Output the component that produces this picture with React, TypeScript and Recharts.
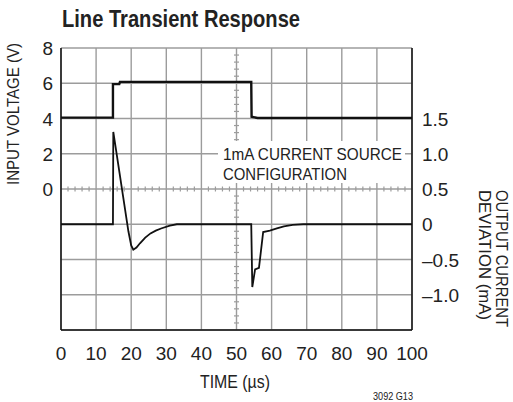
import React from 'react';
import { ComposedChart, Line, Scatter, XAxis, YAxis, CartesianGrid } from 'recharts';

const FONT = '"Liberation Sans Narrow", "Arial Narrow", "Liberation Sans", Arial, sans-serif';
const GRID = '#9c9c9c';
const INK = '#111';

// time axis (µs)
const X_TICKS = [0, 10, 20, 30, 40, 50, 60, 70, 80, 90, 100];
// left axis: input voltage (V) — negatives are grid only
const VOLT_TICKS = [-8, -6, -4, -2, 0, 2, 4, 6, 8];
// right axis: output current deviation (mA)
const CUR_TICKS = [-1, -0.5, 0, 0.5, 1, 1.5];
const CUR_TICK_LABELS = ['\u20131.0', '\u20130.5', '0', '0.5', '1.0', '1.5'];

// input voltage trace
const VOLT_T = [0, 14.8, 14.8, 16.6, 16.8, 54.2, 54.3, 56, 100];
const VOLT_V = [4.05, 4.05, 5.95, 5.95, 6.08, 6.08, 4.1, 4.03, 4.03];

// output current deviation trace
const CUR_T = [0, 14.8, 14.9, 19.2, 20.0, 20.6, 21.5, 22.5, 24, 25.5, 27, 28.5, 31, 33,
  54.2, 54.5, 55.3, 56.4, 57.6, 59.5, 61.5, 63.5, 66, 69, 100];
const CUR_I = [0, 0, 1.31, -0.1, -0.3, -0.36, -0.33, -0.27, -0.19, -0.13, -0.09, -0.06, -0.02, 0,
  0, -0.89, -0.64, -0.62, -0.11, -0.09, -0.06, -0.03, -0.01, 0, 0];

// graticule minor ticks on the centre lines
const MINOR_T = [2, 4, 6, 8, 12, 14, 16, 18, 22, 24, 26, 28, 32, 34, 36, 38, 42, 44, 46, 48,
  52, 54, 56, 58, 62, 64, 66, 68, 72, 74, 76, 78, 82, 84, 86, 88, 92, 94, 96, 98];
const MINOR_V = [-7.6, -7.2, -6.8, -6.4, -5.6, -5.2, -4.8, -4.4, -3.6, -3.2, -2.8, -2.4,
  -1.6, -1.2, -0.8, -0.4, 0.4, 0.8, 1.2, 1.6, 2.4, 2.8, 3.2, 3.6, 4.4, 4.8, 5.2, 5.6,
  6.4, 6.8, 7.2, 7.6];

const voltData = VOLT_T.map((t, k) => ({ t, v: VOLT_V[k] }));
const curData = CUR_T.map((t, k) => ({ t, i: CUR_I[k] }));
const minorH = MINOR_T.map(t => ({ t, v: 0 }));
const minorV = MINOR_V.map(v => ({ t: 50, v }));

const tickText = { fontFamily: FONT, fontSize: 19, fill: '#222' };

const VoltTick = ({ x, y, payload }: any) => (
  payload.value < 0 ? <g /> : (
    <text x={x - 8} y={y + 7} textAnchor="end" {...tickText}>{payload.value}</text>
  )
);

const CurTick = ({ x, y, payload }: any) => {
  const k = CUR_TICKS.indexOf(payload.value);
  return <text x={x + 10} y={y + 7} textAnchor="start" {...tickText}>{CUR_TICK_LABELS[k]}</text>;
};

const TimeTick = ({ x, y, payload }: any) => (
  <text x={x} y={y + 30} textAnchor="middle" {...tickText}>{payload.value}</text>
);

const HTick = (p: any) => <line x1={p.cx} x2={p.cx} y1={p.cy - 2.5} y2={p.cy + 2.5} stroke={GRID} strokeWidth={1.2} />;
const VTick = (p: any) => <line x1={p.cx - 2.5} x2={p.cx + 2.5} y1={p.cy} y2={p.cy} stroke={GRID} strokeWidth={1.2} />;

export default function App() {
  return (
    <div style={{ position: 'absolute', left: 0, top: 0, width: 513, height: 402, background: '#fff' }}>
      <ComposedChart width={513} height={402} margin={{ top: 48, right: 0, bottom: 0, left: 0 }}>
        <CartesianGrid yAxisId="v" stroke={GRID} strokeWidth={1.4} />
        <XAxis dataKey="t" type="number" domain={[0, 100]} ticks={X_TICKS} height={72}
          tickLine={false} tickSize={0} tickMargin={0} tick={<TimeTick />}
          axisLine={{ stroke: INK, strokeWidth: 1.5 }} />
        <XAxis xAxisId="top" orientation="top" type="number" domain={[0, 100]} height={0}
          tick={false} tickLine={false} axisLine={{ stroke: INK, strokeWidth: 1.5 }} />
        <YAxis yAxisId="v" dataKey="v" type="number" domain={[-8, 8]} ticks={VOLT_TICKS} width={61}
          tickLine={false} tickSize={0} tickMargin={0} tick={<VoltTick />}
          axisLine={{ stroke: INK, strokeWidth: 1.5 }} />
        <YAxis yAxisId="i" dataKey="i" orientation="right" type="number" domain={[-1.5, 2.5]} ticks={CUR_TICKS} width={101}
          tickLine={false} tickSize={0} tickMargin={0} tick={<CurTick />}
          axisLine={{ stroke: INK, strokeWidth: 1.5 }} />
        <Scatter yAxisId="v" data={minorH} dataKey="v" shape={HTick} isAnimationActive={false} />
        <Scatter yAxisId="v" data={minorV} dataKey="v" shape={VTick} isAnimationActive={false} />
        <Line yAxisId="v" data={voltData} dataKey="v" type="linear" stroke={INK} strokeWidth={2.4}
          dot={false} activeDot={false} isAnimationActive={false} />
        <Line yAxisId="i" data={curData} dataKey="i" type="linear" stroke={INK} strokeWidth={1.8}
          dot={false} activeDot={false} isAnimationActive={false} />
      </ComposedChart>
      <svg width={513} height={402} style={{ position: 'absolute', left: 0, top: 0, pointerEvents: 'none' }}>
        <text x={62} y={27} fontFamily={FONT} fontWeight="bold" fontSize={24} fill="#222"
          textLength={238} lengthAdjust="spacingAndGlyphs">Line Transient Response</text>
        <text transform="translate(19,114) rotate(-90)" textAnchor="middle" fontFamily={FONT} fontSize={16} fill="#222"
          textLength={142} lengthAdjust="spacingAndGlyphs">INPUT VOLTAGE (V)</text>
        <text transform="translate(496,190) rotate(90)" fontFamily={FONT} fontSize={16} fill="#222"
          textLength={137} lengthAdjust="spacingAndGlyphs">OUTPUT CURRENT</text>
        <text transform="translate(479,190) rotate(90)" fontFamily={FONT} fontSize={16} fill="#222"
          textLength={130} lengthAdjust="spacingAndGlyphs">DEVIATION (mA)</text>
        <text x={235} y={388} textAnchor="middle" fontFamily={FONT} fontSize={18} fill="#222"
          textLength={70} lengthAdjust="spacingAndGlyphs">TIME (µs)</text>
        <text x={373} y={400} fontFamily={FONT} fontSize={10.5} fill="#222"
          textLength={40} lengthAdjust="spacingAndGlyphs">3092 G13</text>
        <rect x={218} y={141} width={187} height={42} fill="#fff" />
        <text x={223} y={160} fontFamily={FONT} fontSize={17} fill="#222"
          textLength={179} lengthAdjust="spacingAndGlyphs">1mA CURRENT SOURCE</text>
        <text x={223} y={180} fontFamily={FONT} fontSize={17} fill="#222"
          textLength={124} lengthAdjust="spacingAndGlyphs">CONFIGURATION</text>
      </svg>
    </div>
  );
}
